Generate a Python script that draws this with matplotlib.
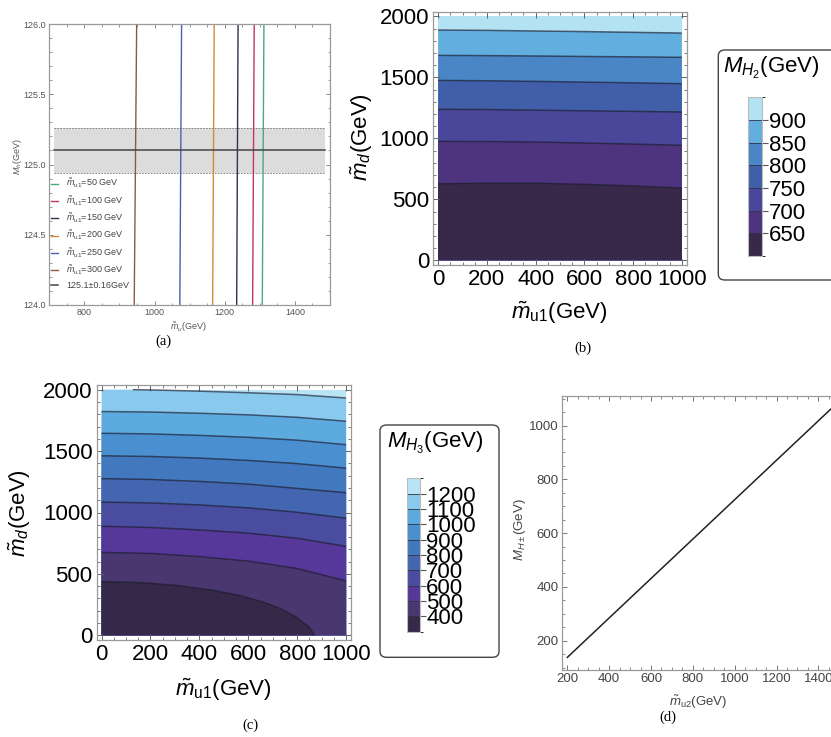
"""Light-scalar mass scans: M_h bands, M_H2 / M_H3 contour maps and M_H± line."""

import matplotlib

matplotlib.use("Agg")
import matplotlib.pyplot as plt
from matplotlib.cm import ScalarMappable
from matplotlib.colors import BoundaryNorm, ListedColormap
from matplotlib.patches import FancyBboxPatch
from matplotlib.ticker import MultipleLocator

plt.rcParams["font.family"] = ["Liberation Sans", "DejaVu Sans"]
plt.rcParams["mathtext.fontset"] = "custom"
plt.rcParams["mathtext.rm"] = "Liberation Sans"
plt.rcParams["mathtext.it"] = "Liberation Sans:italic"
plt.rcParams["mathtext.bf"] = "Liberation Sans:bold"

W, H = 831, 737

# --- (a) M_h versus m_u for several m_u1 ---
SCAN_MU1 = [50, 100, 150, 200, 250, 300]
MU_AT_MH_LOW = [1307, 1279.5, 1234, 1165.5, 1072, 942]
MU_AT_MH_HIGH = [1311.7, 1284, 1238, 1170, 1077, 949]
MH_ENDS = [124.0, 126.0]
SCAN_COLORS = ["#45ad7a", "#c2365a", "#3b2d4f", "#d08c3a", "#4f5fa8", "#8d5a3c"]
MH_CENTRAL = 125.1
MH_ERR = 0.16
BAND_MU = [714, 1486]

# --- (b) M_H2 contours in the (m_u1, m_d) plane ---
B_MU1 = [0, 200, 400, 600, 800, 1000]
B_LEVELS = [650, 700, 750, 800, 850, 900]
B_MD = [
    [628, 632, 633, 623, 610, 593],
    [975, 974, 970, 962, 953, 943],
    [1238, 1236, 1231, 1226, 1221, 1216],
    [1475, 1472, 1467, 1461, 1455, 1448],
    [1680, 1678, 1675, 1671, 1668, 1664],
    [1888, 1885, 1880, 1875, 1869, 1863],
]
B_COLORS = ["#38294a", "#4e347e", "#4a479a", "#415fa9", "#4a86c6", "#61aedf", "#b3e2f3"]

# --- (c) M_H3 contours in the (m_u1, m_d) plane ---
C_LEVELS = [400, 500, 600, 700, 800, 900, 1000, 1100, 1200]
C_MU1 = [
    [0, 150, 300, 450, 560, 657, 730, 794, 849, 870],
    [0, 200, 400, 600, 800, 1000],
    [0, 200, 400, 600, 800, 1000],
    [0, 200, 400, 600, 800, 1000],
    [0, 200, 400, 600, 800, 1000],
    [0, 200, 400, 600, 800, 1000],
    [0, 200, 400, 600, 800, 1000],
    [0, 200, 400, 600, 800, 1000],
    [128, 200, 400, 600, 800, 1000],
]
C_MD = [
    [437, 430, 408, 369, 327, 273, 220, 150, 68, 0],
    [675, 667, 641, 604, 544, 443],
    [888, 878, 858, 832, 790, 724],
    [1085, 1078, 1062, 1038, 1002, 954],
    [1276, 1269, 1253, 1231, 1196, 1161],
    [1462, 1456, 1443, 1424, 1398, 1361],
    [1645, 1640, 1628, 1612, 1589, 1552],
    [1822, 1818, 1808, 1795, 1775, 1743],
    [2000, 1998, 1988, 1975, 1960, 1932],
]
C_COLORS = ["#362848", "#4a376f", "#56389a", "#4a4ca0", "#4466b0",
            "#4279be", "#4a8fcf", "#5daadf", "#89c9ed", "#b9e4f5"]

# --- (d) charged scalar mass versus m_u2 ---
MU2 = [200, 1500]
MHC = [138, 1091]


def px_axes(fig, x0, y0, x1, y1):
    return fig.add_axes([x0 / W, 1 - y1 / H, (x1 - x0) / W, (y1 - y0) / H])


def px_text(fig, x, y, s, **kw):
    return fig.text(x / W, 1 - y / H, s, **kw)


def frame_style(ax, edge, tick_color, major, minor, xminor, yminor, label_size, label_color, pad):
    for sp in ax.spines.values():
        sp.set_color(edge)
        sp.set_linewidth(0.9)
    ax.xaxis.set_minor_locator(MultipleLocator(xminor))
    ax.yaxis.set_minor_locator(MultipleLocator(yminor))
    ax.tick_params(which="both", direction="in", top=True, right=True, color=tick_color,
                   labelsize=label_size, labelcolor=label_color, pad=pad)
    ax.tick_params(which="major", length=major, width=0.7)
    ax.tick_params(which="minor", length=minor, width=0.6)


def contour_bands(ax, xs_list, ys_list, colors):
    # paint the top band over the whole square, then each lower band beneath its curve
    ax.fill([0, 1000, 1000, 0], [0, 0, 2000, 2000], color=colors[-1], lw=0)
    for k in range(len(xs_list) - 1, -1, -1):
        xs, ys = list(xs_list[k]), list(ys_list[k])
        px = [0, 0] + xs + [xs[-1]]
        py = [0, ys[0]] + ys + [0]
        ax.fill(px, py, color=colors[k], lw=0)
    for xs, ys in zip(xs_list, ys_list):
        ax.plot(xs, ys, color="#1c1c2c", lw=1.1, alpha=0.65, solid_capstyle="butt")


def colorbar_box(fig, box, bar, title, title_xy, levels, colors, step):
    x0, y0, x1, y1 = box
    fig.add_artist(FancyBboxPatch((x0 / W, 1 - y1 / H), (x1 - x0) / W, (y1 - y0) / H,
                                  boxstyle="round,pad=0,rounding_size=0.008",
                                  transform=fig.transFigure, facecolor="none",
                                  edgecolor="#444444", lw=1.0))
    px_text(fig, title_xy[0], title_xy[1], title, fontsize=16, ha="left", va="center")
    cax = px_axes(fig, *bar)
    cax.set_zorder(3)
    bounds = [levels[0] - step] + list(levels) + [levels[-1] + step]
    sm = ScalarMappable(norm=BoundaryNorm(bounds, len(colors)), cmap=ListedColormap(colors))
    cb = fig.colorbar(sm, cax=cax, ticks=levels, drawedges=True)
    cb.outline.set_edgecolor("#bbbbbb")
    cb.outline.set_linewidth(0.8)
    cb.dividers.set_color("#333344")
    cb.dividers.set_linewidth(0.6)
    cb.ax.tick_params(length=4, width=0.8, color="#555555", labelsize=16, pad=0.5)
    return cb


fig = plt.figure(figsize=(W / 100, H / 100), dpi=100)

# (a)
ax = px_axes(fig, 49.3, 24, 330, 305)
ax.fill_between(BAND_MU, MH_CENTRAL - MH_ERR, MH_CENTRAL + MH_ERR, color="#dcdcdc", lw=0)
for edge in (MH_CENTRAL - MH_ERR, MH_CENTRAL + MH_ERR):
    ax.plot(BAND_MU, [edge, edge], color="#777777", lw=0.6, ls=(0, (2, 1.5)))
for mu1, lo, hi, col in zip(SCAN_MU1, MU_AT_MH_LOW, MU_AT_MH_HIGH, SCAN_COLORS):
    ax.plot([lo, hi], MH_ENDS, color=col, lw=1.0,
            label=r"$\tilde{m}_{\rm u1}$=%d GeV" % mu1)
ax.plot(BAND_MU, [MH_CENTRAL, MH_CENTRAL], color="#444444", lw=1.1,
        label="%.1f\u00b1%.2fGeV" % (MH_CENTRAL, MH_ERR))
ax.set_xlim(700, 1500)
ax.set_ylim(124, 126)
ax.set_xticks([800, 1000, 1200, 1400])
ax.set_yticks([124.0, 124.5, 125.0, 125.5, 126.0])
ax.yaxis.set_major_formatter("{x:.1f}")
frame_style(ax, "#9a9a9a", "#888888", 3, 1.8, 50, 0.1, 6.5, "#555555", 2.5)
ax.legend(loc="upper left", bbox_to_anchor=(0.0, 0.462), frameon=False, fontsize=6.5,
          handlelength=0.8, handletextpad=0.9, labelspacing=0.45, borderaxespad=0,
          borderpad=0.2, labelcolor="#444444")
px_text(fig, 18, 157, r"$M_h$(GeV)", fontsize=6.5, color="#555555", rotation=90,
        ha="center", va="center")
px_text(fig, 188, 327, r"$\tilde{m}_u$(GeV)", fontsize=6.5, color="#555555",
        ha="center", va="center")

# (b)
ax = px_axes(fig, 433.3, 11.7, 686.7, 265)
contour_bands(ax, [B_MU1] * len(B_LEVELS), B_MD, B_COLORS)
ax.set_xlim(-20, 1020)
ax.set_ylim(-38, 2038)
ax.set_xticks(range(0, 1001, 200))
ax.set_yticks(range(0, 2001, 500))
frame_style(ax, "#9a9a9a", "#666666", 4, 2.5, 50, 100, 16, "black", 3)
px_text(fig, 559, 313, r"$\tilde{m}_{\rm u1}$(GeV)", fontsize=16, ha="center", va="center")
px_text(fig, 362, 137, r"$\tilde{m}_d$(GeV)", fontsize=16, rotation=90,
        ha="center", va="center")
colorbar_box(fig, (718.3, 50, 845, 280), (748.3, 97.3, 762.3, 256),
             r"$M_{H_2}$(GeV)", (722.7, 68), B_LEVELS, B_COLORS, 50)

# (c)
ax = px_axes(fig, 96.7, 385, 351, 640)
contour_bands(ax, C_MU1, C_MD, C_COLORS)
ax.set_xlim(-20, 1020)
ax.set_ylim(-38, 2038)
ax.set_xticks(range(0, 1001, 200))
ax.set_yticks(range(0, 2001, 500))
frame_style(ax, "#9a9a9a", "#666666", 4, 2.5, 50, 100, 16, "black", 3)
px_text(fig, 223, 690, r"$\tilde{m}_{\rm u1}$(GeV)", fontsize=16, ha="center", va="center")
px_text(fig, 20, 513, r"$\tilde{m}_d$(GeV)", fontsize=16, rotation=90,
        ha="center", va="center")
colorbar_box(fig, (380, 425, 499, 657.3), (406.7, 478.3, 420, 631.7),
             r"$M_{H_3}$(GeV)", (386.7, 443.3), C_LEVELS, C_COLORS, 100)

# (d)
ax = px_axes(fig, 561.7, 396, 844.7, 670)
ax.plot(MU2, MHC, color="#222222", lw=1.1)
ax.set_xlim(173, 1526)
ax.set_ylim(91, 1110)
ax.set_xticks(range(200, 1401, 200))
ax.set_yticks(range(200, 1001, 200))
frame_style(ax, "#9a9a9a", "#777777", 3.5, 2, 50, 50, 9.5, "#444444", 2)
px_text(fig, 520, 530, r"$M_{H\pm}$(GeV)", fontsize=9.5, color="#444444", rotation=90,
        ha="center", va="center")
px_text(fig, 698, 702, r"$\tilde{m}_{\rm u2}$(GeV)", fontsize=9.5, color="#444444",
        ha="center", va="center")

# panel captions
for cap, (cx, cy) in zip(["(a)", "(b)", "(c)", "(d)"],
                         [(163, 341), (583, 348), (250, 725), (668, 717)]):
    px_text(fig, cx, cy, cap, fontsize=10.5, family="Liberation Serif",
            ha="center", va="center")

fig.savefig("out.png", dpi=100)
